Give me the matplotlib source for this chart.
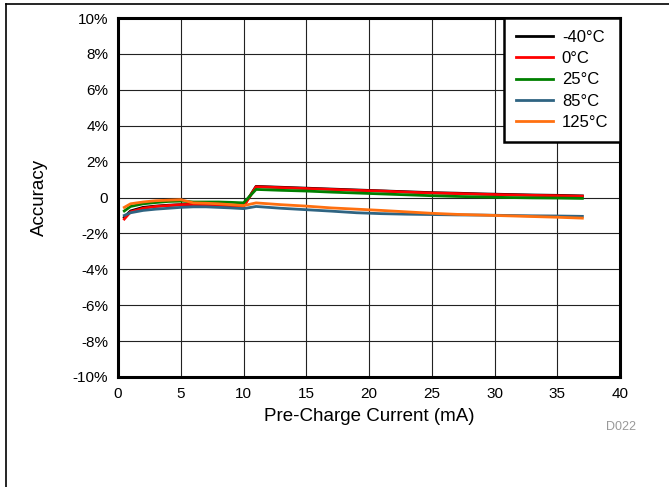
import matplotlib
matplotlib.use("Agg")
import matplotlib.pyplot as plt
from matplotlib.lines import Line2D

plt.rcParams["font.family"] = ["Liberation Sans", "DejaVu Sans"]

# Pre-charge current (mA)
current = [0.5, 1, 2, 3, 4, 5, 6, 7, 8, 9, 10, 11, 13, 15, 17, 19, 21, 23, 25,
           27, 29, 31, 33, 35, 37]

# Accuracy (%) per temperature
acc_m40 = [-1.1, -0.75, -0.55, -0.48, -0.43, -0.4, -0.38, -0.4, -0.42, -0.44,
           -0.47, 0.62, 0.57, 0.52, 0.47, 0.42, 0.37, 0.32, 0.27, 0.24, 0.2,
           0.17, 0.14, 0.12, 0.09]
acc_0 = [-1.2, -0.8, -0.6, -0.5, -0.45, -0.4, -0.38, -0.4, -0.42, -0.45, -0.5,
         0.6, 0.55, 0.5, 0.45, 0.4, 0.36, 0.3, 0.25, 0.22, 0.18, 0.15, 0.12,
         0.1, 0.07]
acc_25 = [-0.75, -0.5, -0.35, -0.28, -0.22, -0.2, -0.25, -0.25, -0.25, -0.27,
          -0.3, 0.45, 0.4, 0.36, 0.3, 0.25, 0.2, 0.15, 0.1, 0.06, 0.03, 0.0,
          -0.02, -0.03, -0.05]
acc_85 = [-1.0, -0.85, -0.72, -0.65, -0.6, -0.55, -0.52, -0.52, -0.55, -0.58,
          -0.62, -0.5, -0.6, -0.68, -0.76, -0.85, -0.9, -0.93, -0.95, -0.97,
          -0.98, -1.0, -1.02, -1.03, -1.05]
acc_125 = [-0.55, -0.35, -0.25, -0.18, -0.15, -0.12, -0.3, -0.32, -0.35, -0.4,
           -0.45, -0.3, -0.4, -0.48, -0.58, -0.65, -0.72, -0.8, -0.88, -0.94,
           -0.98, -1.02, -1.06, -1.1, -1.15]

series = [
    (acc_m40, "-40°C", "#000000"),
    (acc_0, "0°C", "#ff0000"),
    (acc_25, "25°C", "#008000"),
    (acc_85, "85°C", "#2f6482"),
    (acc_125, "125°C", "#ff7010"),
]

x_ticks = [0, 5, 10, 15, 20, 25, 30, 35, 40]
y_ticks = [-10, -8, -6, -4, -2, 0, 2, 4, 6, 8, 10]
y_labels = ["-10%", "-8%", "-6%", "-4%", "-2%", "0", "2%", "4%", "6%", "8%", "10%"]

fig = plt.figure(figsize=(6.69, 4.87), dpi=100)
ax = fig.add_axes([0.1764, 0.2259, 0.7504, 0.7371])

for vals, label, color in series:
    ax.plot(current, vals, color=color, lw=2.0, label=label, zorder=3)

ax.set_xlim(0, 40)
ax.set_ylim(-10, 10)
ax.set_xticks(x_ticks)
ax.set_yticks(y_ticks)
ax.set_yticklabels(y_labels)
ax.tick_params(length=0, labelsize=11, pad=7)
ax.grid(True, color="#222222", lw=0.8)
ax.set_axisbelow(True)
for sp in ax.spines.values():
    sp.set_linewidth(2.2)

ax.set_xlabel("Pre-Charge Current (mA)", fontsize=13.5, labelpad=5)
ax.set_ylabel("Accuracy", fontsize=13.5, labelpad=18)

leg = ax.legend(loc="upper right", borderaxespad=0, fontsize=12,
                handlelength=2.2, handletextpad=0.55, labelspacing=0.38,
                fancybox=False, framealpha=1, edgecolor="black", borderpad=0.7)
leg.get_frame().set_linewidth(1.8)

fig.text(0.95, 0.117, "D022", fontsize=9, color="#999999", ha="right")

# outer page border lines (top and left)
fig.add_artist(Line2D([0.009, 1.0], [0.992, 0.992], color="black", lw=1.2,
                      transform=fig.transFigure))
fig.add_artist(Line2D([0.009, 0.009], [0.0, 0.992], color="black", lw=1.2,
                      transform=fig.transFigure))

fig.savefig("out.png", dpi=100)
